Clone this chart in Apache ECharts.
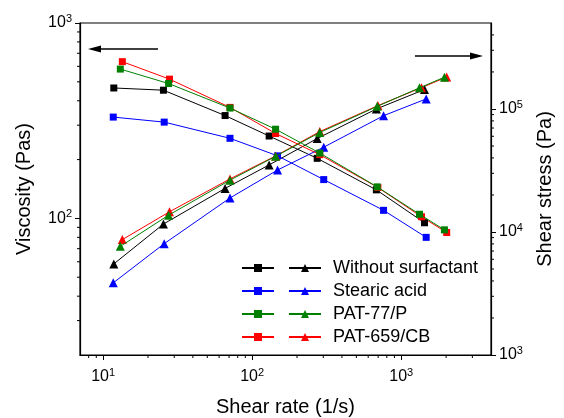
<!DOCTYPE html>
<html><head><meta charset="utf-8">
<script src="https://cdn.jsdelivr.net/npm/echarts@6/dist/echarts.min.js"></script>
<style>html,body{margin:0;padding:0;background:#fff}#c{width:564px;height:418px}</style>
</head><body><div id="c"></div>
<script>
// ---- data ----
const samples = ['Without surfactant', 'Stearic acid', 'PAT-77/P', 'PAT-659/CB'];
const colors = ['#000000', '#0000ff', '#008000', '#ff0000'];

const rateWithout = [11.8, 25.4, 65.8, 130, 273, 681, 1432];
const viscWithout = [465, 453, 336, 264, 203, 140, 95];
const stressWithout = [5500, 11600, 22600, 35100, 57500, 100000, 144000];

const rateStearic = [11.7, 25.7, 71, 148, 302, 761, 1470];
const viscStearic = [330, 311, 257, 209, 158, 110, 80];
const stressStearic = [3860, 8040, 18900, 31900, 48900, 88200, 120700];

const ratePAT77 = [13.05, 27.5, 71, 143.6, 284, 690, 1326, 1948];
const viscPAT77 = [581, 490, 367, 286, 216, 145, 105, 87.4];
const stressPAT77 = [7640, 13700, 26400, 41200, 64400, 105000, 148500, 181300];

const ratePAT659 = [13.46, 27.9, 71, 143.6, 284, 697, 1367, 2018];
const viscPAT659 = [634, 516, 370, 272, 212, 144, 102, 84.7];
const stressPAT659 = [8670, 14600, 27000, 41500, 65500, 106500, 149000, 182000];

const xRange = [7, 4000];
const viscRange = [20, 1000];
const stressRange = [1000, 500000];
const xMinorTicks = [8, 9, 20, 30, 40, 50, 60, 70, 80, 90, 200, 300, 400, 500, 600, 700, 800, 900, 2000, 3000];
const viscMinorTicks = [30, 40, 50, 60, 70, 80, 90, 200, 300, 400, 500, 600, 700, 800, 900];
const stressMinorTicks = [2000, 3000, 4000, 5000, 6000, 7000, 8000, 9000, 20000, 30000, 40000, 50000, 60000, 70000, 80000, 90000, 200000, 300000, 400000];

const rates = [rateWithout, rateStearic, ratePAT77, ratePAT659];
const viscs = [viscWithout, viscStearic, viscPAT77, viscPAT659];
const stresses = [stressWithout, stressStearic, stressPAT77, stressPAT659];

// ---- chart ----
const FONT = 'Arial, "Liberation Sans", sans-serif';
const pair = (xs, ys) => xs.map((x, i) => [x, ys[i]]);
const supFmt = v => {
  const e = Math.log10(v);
  if (Math.abs(e - Math.round(e)) > 1e-6) return '';
  return '{b|10}{s|' + Math.round(e) + '}';
};
const rich = {
  b: {fontSize: 16, fontFamily: FONT, color: '#000', lineHeight: 20},
  s: {fontSize: 11, fontFamily: FONT, color: '#000', lineHeight: 11, verticalAlign: 'top'}
};
const axisCommon = {
  type: 'log', logBase: 10,
  axisLine: {show: true, onZero: false, lineStyle: {color: '#000', width: 1.2}},
  axisTick: {show: true, inside: false, length: 5, lineStyle: {color: '#000', width: 1}},
  splitLine: {show: false},
  minorTick: {show: false},
  nameLocation: 'middle',
  nameTextStyle: {fontSize: 20, fontFamily: FONT, color: '#000'}
};

const order = [0, 1, 3, 2]; // draw green above red
const series = [];
order.forEach(i => {
  series.push({
    name: samples[i] + ' ', type: 'line', xAxisIndex: 0, yAxisIndex: 0,
    data: pair(rates[i], viscs[i]), symbol: 'rect', symbolSize: 7,
    lineStyle: {color: colors[i], width: 1}, itemStyle: {color: colors[i]}, z: i === 2 ? 4 : 3
  });
  series.push({
    name: samples[i], type: 'line', xAxisIndex: 0, yAxisIndex: 1,
    data: pair(rates[i], stresses[i]), symbol: 'triangle', symbolSize: 9,
    lineStyle: {color: colors[i], width: 1}, itemStyle: {color: colors[i]}, z: i === 2 ? 4 : 3
  });
});

function tickSeries(data, yIdx, dx, dy) {
  return {
    type: 'custom', xAxisIndex: 0, yAxisIndex: yIdx, silent: true, clip: false, z: 5,
    data: data,
    renderItem: (params, api) => {
      const p = api.coord([api.value(0), api.value(1)]);
      return {type: 'line', shape: {x1: p[0], y1: p[1], x2: p[0] + dx, y2: p[1] + dy},
        style: {stroke: '#000', lineWidth: 1}};
    }
  };
}
series.push(tickSeries(xMinorTicks.map(v => [v, viscRange[0]]), 0, 0, 3));
series.push(tickSeries(viscMinorTicks.map(v => [xRange[0], v]), 0, -3, 0));
series.push(tickSeries(stressMinorTicks.map(v => [xRange[1], v]), 1, 3, 0));

const legendText = {fontSize: 18, fontFamily: FONT, color: '#000', lineHeight: 18};
const option = {
  animation: false,
  backgroundColor: '#fff',
  grid: {left: 80, right: 73, top: 23, bottom: 63, show: true, borderColor: '#000', borderWidth: 1.2,
    backgroundColor: 'transparent', containLabel: false, outerBoundsMode: 'none'},
  xAxis: [Object.assign({}, axisCommon, {
    min: xRange[0], max: xRange[1], position: 'bottom',
    axisLabel: {formatter: supFmt, rich: rich, margin: 12, showMinLabel: false, showMaxLabel: false},
    name: 'Shear rate (1/s)', nameGap: 42
  })],
  yAxis: [
    Object.assign({}, axisCommon, {
      min: viscRange[0], max: viscRange[1], position: 'left',
      axisLabel: {formatter: supFmt, rich: rich, margin: 8, showMinLabel: false},
      name: 'Viscosity (Pas)', nameGap: 46
    }),
    Object.assign({}, axisCommon, {
      min: stressRange[0], max: stressRange[1], position: 'right',
      axisLabel: {formatter: supFmt, rich: rich, margin: 8, showMaxLabel: false},
      name: 'Shear stress (Pa)', nameGap: 44
    })
  ],
  legend: [
    {
      data: samples.map(s => s + ' '), orient: 'vertical', left: 241, top: 259, padding: 0,
      itemWidth: 32, itemHeight: 10, itemGap: 5, formatter: () => ' ',
      textStyle: legendText, selectedMode: false
    },
    {
      data: samples.slice(), orient: 'vertical', left: 288, top: 259, padding: 0,
      itemWidth: 32, itemHeight: 10, itemGap: 5,
      textStyle: Object.assign({padding: [0, 0, 0, 7]}, legendText), selectedMode: false
    }
  ],
  graphic: [
    {type: 'line', shape: {x1: 98, y1: 49, x2: 158, y2: 49}, style: {stroke: '#000', lineWidth: 1.5}},
    {type: 'polygon', shape: {points: [[88, 49], [101, 45.5], [101, 52.5]]}, style: {fill: '#000'}},
    {type: 'line', shape: {x1: 415, y1: 56, x2: 472, y2: 56}, style: {stroke: '#000', lineWidth: 1.5}},
    {type: 'polygon', shape: {points: [[483, 56], [470, 52.5], [470, 59.5]]}, style: {fill: '#000'}}
  ],
  series: series
};
echarts.init(document.getElementById('c'), null, {renderer: 'canvas'}).setOption(option);
</script>
</body></html>
